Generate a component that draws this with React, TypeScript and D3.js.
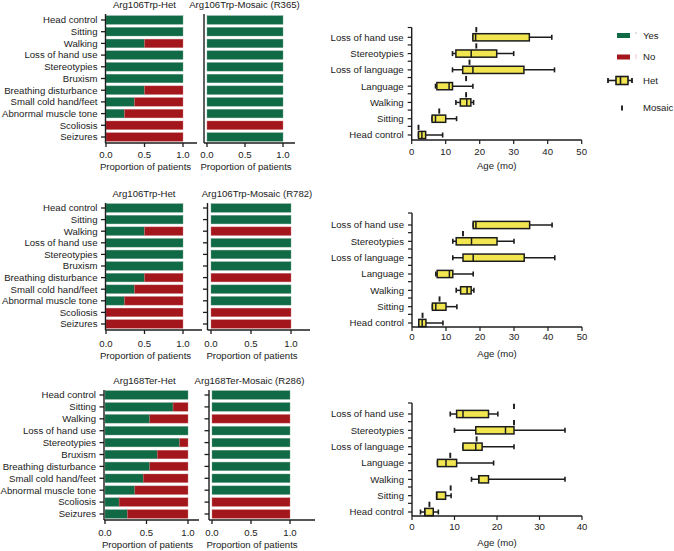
import React from "react";
import * as d3 from "d3";

// ---------- DATA ----------
const barCategories = [
  "Head control",
  "Sitting",
  "Walking",
  "Loss of hand use",
  "Stereotypies",
  "Bruxism",
  "Breathing disturbance",
  "Small cold hand/feet",
  "Abnormal muscle tone",
  "Scoliosis",
  "Seizures",
];
// proportion of "Yes" per category
const het106Yes = [1, 1, 0.5, 1, 1, 1, 0.5, 0.37, 0.24, 0, 0];
const mosaicR365Yes = [1, 1, 1, 1, 1, 1, 1, 1, 1, 0, 1];
const mosaicR782Yes = [1, 1, 0, 1, 1, 1, 0, 1, 1, 0, 0];
const het168Yes = [1, 0.82, 0.54, 1, 0.9, 0.63, 0.54, 0.46, 0.36, 0.17, 0.27];
const mosaicR286Yes = [1, 1, 0, 1, 1, 1, 1, 1, 1, 0, 0];
const proportionTicks = [0, 0.5, 1];

const boxCategories = [
  "Loss of hand use",
  "Stereotypies",
  "Loss of language",
  "Language",
  "Walking",
  "Sitting",
  "Head control",
];
// Het distributions (age in months): min, q1, median, q3, max
const het106Min = [18, 12, 12, 7, 13, 6, 2];
const het106Q1 = [18, 13, 15, 7.4, 14.3, 6, 2];
const het106Med = [18.8, 17.5, 18, 11, 16.2, 7, 3];
const het106Q3 = [34.6, 25, 33, 12, 17.4, 10, 4.1];
const het106Max = [41.2, 30, 42, 18, 18.2, 13.2, 9.1];

const het168Min = [9, 10, 12, 6, 14, 6, 2];
const het168Q1 = [10.5, 15, 12, 6, 15.7, 5.8, 3];
const het168Med = [12, 22, 15, 8, 15.7, 5.8, 3];
const het168Q3 = [18, 24, 16.5, 10.5, 18, 7.9, 5];
const het168Max = [20.2, 36, 24, 19.2, 36, 9.2, 6.2];

// Mosaic single values (null = not reached)
const mosaicR365Age = [19, 19, 17, 16, 16, 8.1, 2];
const mosaicR782Age = [null, 15, null, null, null, 8.1, 3.1];
const mosaicR286Age = [24, 24, 15.2, 9, null, 9.1, 4.1];

const ageTicks50 = [0, 10, 20, 30, 40, 50];
const ageTicks40 = [0, 10, 20, 30, 40];

const legendLabels = ["Yes", "No", "Het", "Mosaic"];

// ---------- STYLE ----------
const GREEN = "#0f6a45";
const RED = "#a3171c";
const YELLOW = "#f1e650";
const INK = "#1c1c1c";
const TEXT = "#222";
const FONT = "'Liberation Sans', Arial, Helvetica, sans-serif";
const FS = 9.6;

type BarPanelProps = {
  values: number[];
  title: string;
  titleX: number;
  titleY: number;
  x0: number;
  x1: number;
  axisX: number;
  axisEnd: number;
  yTop: number;
  yBottom: number;
  axisY: number;
  lineTop: number;
  tickY: number;
  labelY: number;
  showLabels: boolean;
  showYTicks: boolean;
};

function BarPanel(p: BarPanelProps) {
  const x = d3.scaleLinear().domain([0, 1]).range([p.x0, p.x1]);
  const y = d3.scalePoint<string>().domain(barCategories).range([p.yTop, p.yBottom]);
  const bh = 8.6;
  return (
    <g>
      <text x={p.titleX} y={p.titleY} textAnchor="middle" fontSize={FS} fill={TEXT}>
        {p.title}
      </text>
      {barCategories.map((c, i) => {
        const yy = y(c)!;
        const v = p.values[i];
        return (
          <g key={c}>
            {v > 0 && (
              <rect x={x(0)} y={yy - bh / 2} width={x(v) - x(0)} height={bh} fill={GREEN} stroke="#6f9f88" strokeWidth={0.4} />
            )}
            {v < 1 && (
              <rect x={x(v)} y={yy - bh / 2} width={x(1) - x(v)} height={bh} fill={RED} stroke="#c77" strokeWidth={0.4} />
            )}
            {p.showYTicks && (
              <line x1={p.axisX - 4.5} x2={p.axisX} y1={yy} y2={yy} stroke={INK} strokeWidth={1.3} />
            )}
            {p.showLabels && (
              <text x={p.axisX - 8} y={yy} dy="0.35em" textAnchor="end" fontSize={FS} fill={TEXT}>
                {c}
              </text>
            )}
          </g>
        );
      })}
      <line x1={p.axisX} x2={p.axisX} y1={p.lineTop} y2={p.axisY} stroke={INK} strokeWidth={1.4} />
      <line x1={p.axisX} x2={p.axisEnd} y1={p.axisY} y2={p.axisY} stroke={INK} strokeWidth={1.4} />
      {proportionTicks.map((t) => (
        <g key={t}>
          <line x1={x(t)} x2={x(t)} y1={p.axisY} y2={p.axisY + 4} stroke={INK} strokeWidth={1.3} />
          <text x={x(t)} y={p.tickY} textAnchor="middle" fontSize={FS} fill={TEXT}>
            {d3.format(".1f")(t)}
          </text>
        </g>
      ))}
      <text x={(p.x0 + p.x1) / 2 + 1} y={p.labelY} textAnchor="middle" fontSize={FS} fill={TEXT}>
        Proportion of patients
      </text>
    </g>
  );
}

type BoxPanelProps = {
  mins: number[];
  q1s: number[];
  meds: number[];
  q3s: number[];
  maxs: number[];
  mosaic: (number | null)[];
  domainMax: number;
  ticks: number[];
  xL: number;
  xR: number;
  yTop: number;
  yBottom: number;
  axisY: number;
  lineTop: number;
  tickY: number;
  labelY: number;
};

function BoxPanel(p: BoxPanelProps) {
  const x = d3.scaleLinear().domain([0, p.domainMax]).range([p.xL, p.xR]);
  const y = d3.scaleLinear().domain([0, boxCategories.length - 1]).range([p.yTop, p.yBottom]);
  const step = y(1) - y(0);
  const bh = 7.2;
  const capH = 5;
  const minorTicks = d3.range(0, boxCategories.length - 1).map((i) => y(i + 0.47));
  return (
    <g>
      {/* y axis */}
      <line x1={p.xL} x2={p.xL} y1={p.lineTop} y2={p.axisY} stroke={INK} strokeWidth={1.4} />
      <line x1={p.xL - 4} x2={p.xL} y1={p.lineTop} y2={p.lineTop} stroke={INK} strokeWidth={1.2} />
      {minorTicks.map((yy, i) => (
        <line key={i} x1={p.xL - 4} x2={p.xL} y1={yy} y2={yy} stroke={INK} strokeWidth={1.2} />
      ))}
      {boxCategories.map((c, i) => {
        const yy = y(i);
        const m = p.mosaic[i];
        return (
          <g key={c}>
            <line x1={p.xL - 4} x2={p.xL} y1={yy} y2={yy} stroke={INK} strokeWidth={1.2} />
            <text x={p.xL - 8} y={yy} dy="0.35em" textAnchor="end" fontSize={FS} fill={TEXT}>
              {c}
            </text>
            {/* whiskers */}
            <line x1={x(p.mins[i])} x2={x(p.maxs[i])} y1={yy} y2={yy} stroke={INK} strokeWidth={1.5} />
            <line x1={x(p.mins[i])} x2={x(p.mins[i])} y1={yy - capH / 2} y2={yy + capH / 2} stroke={INK} strokeWidth={1.6} />
            <line x1={x(p.maxs[i])} x2={x(p.maxs[i])} y1={yy - capH / 2} y2={yy + capH / 2} stroke={INK} strokeWidth={1.6} />
            <rect
              x={x(p.q1s[i])}
              y={yy - bh / 2}
              width={x(p.q3s[i]) - x(p.q1s[i])}
              height={bh}
              fill={YELLOW}
              stroke={INK}
              strokeWidth={1.5}
            />
            <line x1={x(p.meds[i])} x2={x(p.meds[i])} y1={yy - bh / 2} y2={yy + bh / 2} stroke={INK} strokeWidth={1.5} />
            {m !== null && (
              <line
                x1={x(m)}
                x2={x(m)}
                y1={yy - step * 0.47 - 2.6}
                y2={yy - step * 0.47 + 2.6}
                stroke={INK}
                strokeWidth={1.9}
              />
            )}
          </g>
        );
      })}
      {/* x axis */}
      <line x1={p.xL} x2={p.xR} y1={p.axisY} y2={p.axisY} stroke={INK} strokeWidth={1.4} />
      {p.ticks.map((t) => (
        <g key={t}>
          <line x1={x(t)} x2={x(t)} y1={p.axisY} y2={p.axisY + 4} stroke={INK} strokeWidth={1.2} />
          <text x={x(t)} y={p.tickY} textAnchor="middle" fontSize={FS} fill={TEXT}>
            {t}
          </text>
        </g>
      ))}
      <text x={(p.xL + p.xR) / 2} y={p.labelY} textAnchor="middle" fontSize={FS} fill={TEXT}>
        Age (mo)
      </text>
    </g>
  );
}

function Legend() {
  const lx = 643;
  return (
    <g>
      <rect x={617} y={33} width={13} height={5} fill={GREEN} />
      <circle cx={636} cy={33} r={0.5} fill="#555" />
      <text x={lx} y={35.5} dy="0.35em" fontSize={FS} fill={TEXT}>
        {legendLabels[0]}
      </text>
      <rect x={617} y={54.5} width={13} height={5} fill={RED} />
      <line x1={636} x2={636} y1={54} y2={59} stroke="#e9a0a0" strokeWidth={0.6} />
      <text x={lx} y={57} dy="0.35em" fontSize={FS} fill={TEXT}>
        {legendLabels[1]}
      </text>
      {/* Het glyph */}
      <line x1={608} x2={632} y1={80.5} y2={80.5} stroke={INK} strokeWidth={1.6} />
      <line x1={608} x2={608} y1={78} y2={83} stroke={INK} strokeWidth={1.8} />
      <line x1={632} x2={632} y1={78} y2={83} stroke={INK} strokeWidth={1.8} />
      <rect x={616} y={76.5} width={12} height={8} fill={YELLOW} stroke={INK} strokeWidth={1.6} />
      <line x1={620.5} x2={620.5} y1={76.5} y2={84.5} stroke={INK} strokeWidth={1.6} />
      <text x={lx} y={80.5} dy="0.35em" fontSize={FS} fill={TEXT}>
        {legendLabels[2]}
      </text>
      <line x1={622} x2={622} y1={105.5} y2={110.5} stroke={INK} strokeWidth={1.9} />
      <text x={lx} y={108} dy="0.35em" fontSize={FS} fill={TEXT}>
        {legendLabels[3]}
      </text>
    </g>
  );
}

export default function App() {
  return (
    <svg
      width={674}
      height={551}
      viewBox="0 0 674 551"
      style={{ position: "absolute", left: 0, top: 0, background: "#fff", fontFamily: FONT }}
    >
      {/* Row 1 */}
      <BarPanel values={het106Yes} title="Arg106Trp-Het" titleX={144.5} titleY={7.8}
        x0={106} x1={183} axisX={105.5} axisEnd={197} yTop={20} yBottom={137} axisY={143} lineTop={14}
        tickY={158} labelY={170} showLabels={true} showYTicks={true} />
      <BarPanel values={mosaicR365Yes} title="Arg106Trp-Mosaic (R365)" titleX={244.5} titleY={7.8}
        x0={207} x1={283} axisX={204} axisEnd={295} yTop={20} yBottom={137} axisY={143} lineTop={14}
        tickY={158} labelY={170} showLabels={false} showYTicks={false} />
      <BoxPanel mins={het106Min} q1s={het106Q1} meds={het106Med} q3s={het106Q3} maxs={het106Max}
        mosaic={mosaicR365Age} domainMax={50} ticks={ageTicks50} xL={411.7} xR={581.7}
        yTop={37.3} yBottom={135} axisY={140} lineTop={27.5} tickY={154.5} labelY={168.5} />

      {/* Row 2 */}
      <BarPanel values={het106Yes} title="Arg106Trp-Het" titleX={144} titleY={196.5}
        x0={106} x1={183} axisX={105.5} axisEnd={202} yTop={208} yBottom={324} axisY={330} lineTop={203}
        tickY={347} labelY={358.5} showLabels={true} showYTicks={true} />
      <BarPanel values={mosaicR782Yes} title="Arg106Trp-Mosaic (R782)" titleX={257} titleY={196.5}
        x0={211} x1={291} axisX={207.5} axisEnd={310} yTop={208} yBottom={324} axisY={330} lineTop={203}
        tickY={347} labelY={358.5} showLabels={false} showYTicks={true} />
      <BoxPanel mins={het106Min} q1s={het106Q1} meds={het106Med} q3s={het106Q3} maxs={het106Max}
        mosaic={mosaicR782Age} domainMax={50} ticks={ageTicks50} xL={412} xR={582}
        yTop={225} yBottom={323} axisY={327} lineTop={213} tickY={340} labelY={356.5} />

      {/* Row 3 */}
      <BarPanel values={het168Yes} title="Arg168Ter-Het" titleX={144.5} titleY={384}
        x0={105} x1={188} axisX={104} axisEnd={199} yTop={395} yBottom={514} axisY={520} lineTop={390}
        tickY={536} labelY={548} showLabels={true} showYTicks={true} />
      <BarPanel values={mosaicR286Yes} title="Arg168Ter-Mosaic (R286)" titleX={249.5} titleY={384}
        x0={212} x1={290} axisX={209} axisEnd={315} yTop={395} yBottom={514} axisY={520} lineTop={390}
        tickY={536} labelY={548} showLabels={false} showYTicks={true} />
      <BoxPanel mins={het168Min} q1s={het168Q1} meds={het168Med} q3s={het168Q3} maxs={het168Max}
        mosaic={mosaicR286Age} domainMax={40} ticks={ageTicks40} xL={412} xR={582}
        yTop={414} yBottom={512} axisY={516} lineTop={403} tickY={530} labelY={546} />

      <Legend />
    </svg>
  );
}
